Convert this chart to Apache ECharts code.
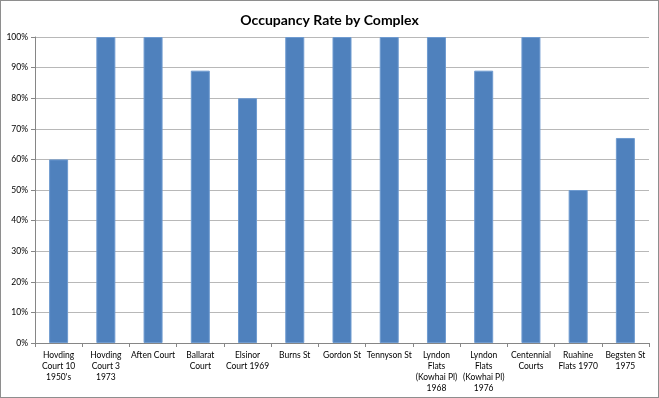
<!DOCTYPE html>
<html>
<head>
<meta charset="utf-8">
<script src="https://cdn.jsdelivr.net/npm/echarts@6/dist/echarts.min.js"></script>
<style>
  html, body { margin: 0; padding: 0; background: #fff; }
  #main { width: 657px; height: 396px; border: 1px solid #8e8e8e; }
</style>
</head>
<body>
<div id="main"></div>
<script>
// chart data
const categories = [
    'Hovding\nCourt 10\n1950\'s',
    'Hovding\nCourt 3\n1973',
    'Aften Court',
    'Ballarat\nCourt',
    'Elsinor\nCourt 1969',
    'Burns St',
    'Gordon St',
    'Tennyson St',
    'Lyndon\nFlats\n(Kowhai Pl)\n1968',
    'Lyndon\nFlats\n(Kowhai Pl)\n1976',
    'Centennial\nCourts',
    'Ruahine\nFlats 1970',
    'Begsten St\n1975'
];
const occupancy = [60, 100, 100, 89, 80, 100, 100, 100, 100, 89, 100, 50, 67];

const font = 'Lato, "Open Sans", sans-serif';

const myChart = echarts.init(document.getElementById('main'));
const option = {
    animation: false,
    title: {
        text: 'Occupancy Rate by Complex',
        left: 'center',
        top: 7,
        textStyle: { fontFamily: font, fontSize: 14, fontWeight: 'bold', color: '#000' }
    },
    grid: { left: 34, right: 9, top: 36, bottom: 54 },
    xAxis: {
        type: 'category',
        data: categories,
        axisLine: { lineStyle: { color: '#868686' } },
        axisTick: { show: true, length: 4, lineStyle: { color: '#868686' } },
        axisLabel: {
            interval: 0,
            fontFamily: font,
            fontSize: 8.5,
            color: '#000',
            lineHeight: 11,
            margin: 7
        }
    },
    yAxis: {
        type: 'value',
        min: 0,
        max: 100,
        interval: 10,
        axisLine: { show: true, lineStyle: { color: '#868686' } },
        axisTick: { show: true, length: 4, lineStyle: { color: '#868686' } },
        axisLabel: {
            formatter: '{value}%',
            fontFamily: font,
            fontSize: 8.5,
            color: '#000',
            margin: 7
        },
        splitLine: { lineStyle: { color: '#b8b8b8', width: 1 } }
    },
    series: [{
        type: 'bar',
        data: occupancy,
        barWidth: 19,
        itemStyle: { color: '#4f81bd', borderColor: '#6f9bd0', borderWidth: 1 }
    }]
};
myChart.setOption(option);
</script>
</body>
</html>
